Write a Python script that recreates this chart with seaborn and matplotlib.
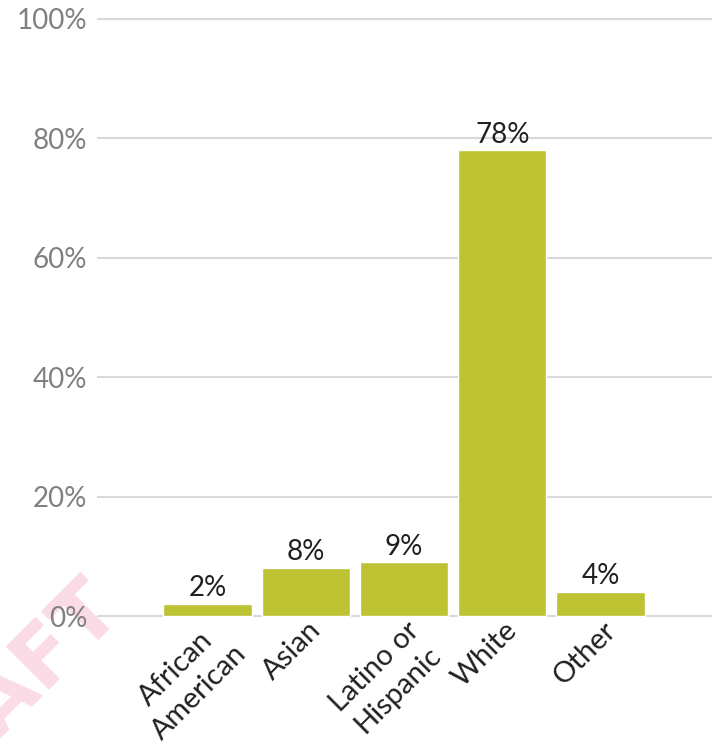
import matplotlib
matplotlib.use("Agg")
import matplotlib.pyplot as plt
import matplotlib.transforms as mtransforms
import seaborn as sns
import pandas as pd

categories = ["African\nAmerican", "Asian", "Latino or\nHispanic", "White", "Other"]
values = [2, 8, 9, 78, 4]
value_labels = ["2%", "8%", "9%", "78%", "4%"]
y_ticks = [0, 20, 40, 60, 80, 100]
y_tick_labels = ["0%", "20%", "40%", "60%", "80%", "100%"]

sns.set_theme(style="white")
plt.rcParams["font.family"] = ["Lato", "DejaVu Sans"]

W, H = 718, 756
fig = plt.figure(figsize=(W / 100, H / 100), dpi=100)
fig.patch.set_facecolor("white")

# watermark
fig.text(123 / W, 1 - 609 / H, "DRAFT", fontsize=60, fontweight="bold",
         color="#fbdbe5", rotation=45, rotation_mode="anchor",
         ha="right", va="baseline", zorder=-5, family="DejaVu Sans")

ax = fig.add_axes([97 / W, 1 - 619 / H, (712 - 97) / W, (619 - 16) / H])
ax.patch.set_alpha(0)
ax.set_zorder(1)

df = pd.DataFrame({"cat": categories, "val": values})
sns.barplot(data=df, x="cat", y="val", color="#bdc333", saturation=1,
            width=0.9, ax=ax, zorder=3)

ax.set_ylim(-0.5, 100.5)
ax.set_xlim(-1.125, 5.135)
ax.set_yticks(y_ticks)
ax.set_yticklabels(y_tick_labels)
ax.yaxis.grid(True, color="#d9d9d9", linewidth=1.5, zorder=0)
ax.set_axisbelow(True)
for s in ax.spines.values():
    s.set_visible(False)
ax.set_xlabel("")
ax.set_ylabel("")
ax.tick_params(axis="y", length=0, pad=7, labelsize=20, labelcolor="#808080")
ax.tick_params(axis="x", length=0, pad=0, labelsize=21, labelcolor="#231f20")

offset = mtransforms.ScaledTranslation(2 / 100, 2 / 100, fig.dpi_scale_trans)
for lab in ax.get_xticklabels():
    lab.set_rotation(45)
    lab.set_rotation_mode("anchor")
    lab.set_ha("right")
    lab.set_va("top")
    lab.set_multialignment("center")
    lab.set_linespacing(1.35)
    lab.set_transform(lab.get_transform() + offset)

for i, (v, t) in enumerate(zip(values, value_labels)):
    ax.annotate(t, xy=(i, v), xytext=(0, 2), textcoords="offset points",
                ha="center", va="bottom", fontsize=20, color="#231f20", zorder=5)

fig.savefig("out.png", dpi=100)
